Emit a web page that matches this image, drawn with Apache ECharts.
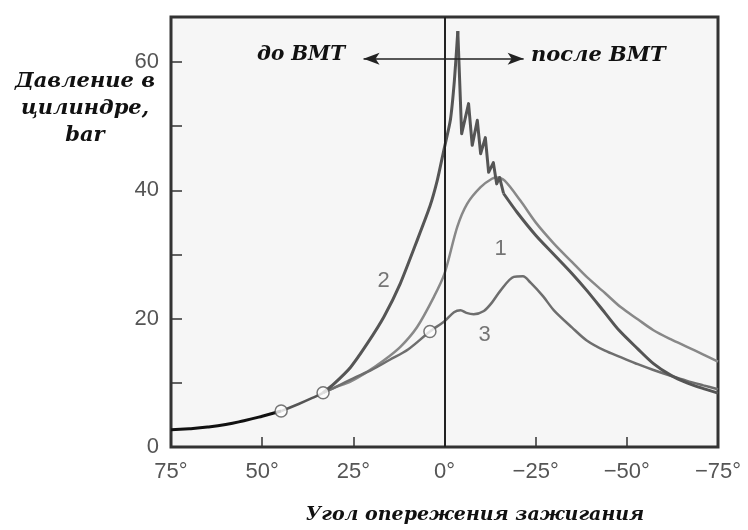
<!DOCTYPE html>
<html><head><meta charset="utf-8">
<script src="https://cdn.jsdelivr.net/npm/echarts@6/dist/echarts.min.js"></script>
<style>html,body{margin:0;padding:0;background:#fff}#c{width:748px;height:530px}</style>
</head><body><div id="c"></div>
<script>
// x = ignition angle (deg, positive = before TDC), y = pressure (bar)
var baseX = [75, 70, 65, 60, 55, 50, 44.8];
var baseY = [2.7, 2.85, 3.1, 3.5, 4.1, 4.8, 5.6];
var sharedX = [44.8, 40, 36, 33.3];
var sharedY = [5.6, 6.7, 7.7, 8.45];
var curve1X = [33.3, 30, 25.8, 21.2, 16.6, 12.1, 7.5, 2.9, 0, -3.5, -6.2, -9.9, -13, -14.4, -16.5, -20.8, -25, -30, -35, -39, -44, -48.3, -53, -57.3, -62, -66.5, -71, -75];
var curve1Y = [8.45, 9.3, 10.2, 11.7, 13.5, 15.6, 18.7, 23.4, 27, 34.3, 37.9, 40.5, 41.8, 42, 41.5, 38.4, 35, 31.7, 28.8, 26.5, 24, 21.8, 19.9, 18.2, 16.8, 15.6, 14.4, 13.3];
// curve 2: compression rise, knocking oscillations, expansion decay
var curve2RiseX = [33.3, 30.4, 25.8, 21.2, 16.6, 12.1, 7.5, 4, 2, 0.2, -1.6, -2.7, -3.65];
var curve2RiseY = [8.45, 9.8, 12.4, 16.1, 20.3, 25.5, 32.2, 37.5, 41.5, 46.2, 50.9, 57, 64.8];
var curve2KnockX = [-3.65, -4.7, -6.6, -7.6, -9, -9.9, -11.2, -12.1, -13.4, -14.3, -15.1, -16.2];
var curve2KnockY = [64.8, 48.8, 53.5, 47, 50.9, 45.7, 48.2, 42.8, 44.3, 41, 42, 39.5];
var curve2DecayX = [-16.2, -20, -25, -30, -35, -39, -44, -48, -53, -57.3, -62, -66.5, -71, -75];
var curve2DecayY = [39.5, 36.5, 33, 30, 27, 24.4, 20.9, 18.1, 15.3, 13, 11.2, 10, 9.1, 8.4];
var curve3X = [33.3, 30, 25, 20, 15, 10, 4, 0, -2.6, -4.4, -6, -8, -10.8, -13, -15.4, -19, -21.5, -23.6, -27, -30, -35, -39, -44, -48.3, -53, -57.3, -62, -66.5, -71, -75];
var curve3Y = [8.45, 9.3, 10.7, 12.0, 13.6, 15.2, 18.0, 19.6, 21, 21.3, 20.9, 20.7, 21.2, 22.5, 24.4, 26.5, 26.6, 25.6, 23.5, 21.3, 18.6, 16.6, 15.0, 14.0, 12.9, 12.0, 11.1, 10.3, 9.6, 9.0];
var circleX = [44.8, 33.3, 4.0];
var circleY = [5.6, 8.45, 18.0];
var curveNames = ['1', '2', '3'];
var nameX = [-15.4, 16.7, -11];
var nameY = [30.8, 25.8, 17.4];
var xTicks = [75, 50, 25, 0, -25, -50, -75];
var yTicks = [0, 20, 40, 60];
var arrowX = [22.2, -21.7];
var arrowY = 60.5;

function pairs(xs, ys) { return xs.map(function (x, i) { return [x, ys[i]]; }); }

var chart = echarts.init(document.getElementById('c'));
var serifFont = '"DejaVu Serif", serif';
var labelStyle = { color: '#555', fontSize: 22, fontFamily: '"Liberation Sans", Arial, sans-serif' };
var c2 = { color: '#555', width: 3, join: 'round' };

chart.setOption({
  backgroundColor: '#fff',
  animation: false,
  grid: { left: 171, right: 30, top: 17, bottom: 83, show: true, backgroundColor: '#f6f6f6', borderColor: '#333', borderWidth: 3 },
  xAxis: {
    type: 'value', min: -75, max: 75, interval: 25, inverse: true, position: 'bottom',
    axisLine: { show: false, onZero: false },
    axisTick: { show: true, inside: true, length: 10, lineStyle: { color: '#333', width: 1.5 } },
    splitLine: { show: false },
    axisLabel: Object.assign({ margin: 14, formatter: function (v) {
      if (xTicks.indexOf(v) < 0) return '';
      return (v < 0 ? '\u2212' + (-v) : v) + '\u00b0';
    } }, labelStyle)
  },
  yAxis: {
    type: 'value', min: 0, max: 67, interval: 10, position: 'left',
    axisLine: { show: false, onZero: false },
    axisTick: { show: true, inside: true, length: 11, lineStyle: { color: '#333', width: 1.5 } },
    splitLine: { show: false },
    axisLabel: Object.assign({ margin: 12, formatter: function (v) {
      return yTicks.indexOf(v) >= 0 ? String(v) : '';
    } }, labelStyle)
  },
  series: [
    { type: 'line', data: pairs(baseX, baseY), showSymbol: false, smooth: true, lineStyle: { color: '#111', width: 3 }, z: 3 },
    { type: 'line', data: pairs(sharedX, sharedY), showSymbol: false, smooth: true, lineStyle: { color: '#555', width: 2.5 }, z: 3 },
    { type: 'line', data: pairs(curve1X, curve1Y), showSymbol: false, smooth: 0.3, lineStyle: { color: '#888', width: 2.5 }, z: 3 },
    { type: 'line', data: pairs(curve3X, curve3Y), showSymbol: false, smooth: 0.3, lineStyle: { color: '#6e6e6e', width: 2.5 }, z: 3 },
    { type: 'line', data: pairs(curve2RiseX, curve2RiseY), showSymbol: false, smooth: 0.2, lineStyle: c2, z: 4,
      markLine: {
        silent: true, symbol: ['none', 'none'], label: { show: false },
        lineStyle: { color: '#222', width: 2, type: 'solid' },
        data: [{ xAxis: 0 }]
      }
    },
    { type: 'line', data: pairs(curve2KnockX, curve2KnockY), showSymbol: false, smooth: false, lineStyle: c2, z: 4 },
    { type: 'line', data: pairs(curve2DecayX, curve2DecayY), showSymbol: false, smooth: 0.3, lineStyle: c2, z: 4 },
    { type: 'line', data: [], z: 5,
      markLine: {
        silent: true, symbol: ['arrow', 'arrow'], symbolSize: [9, 16], label: { show: false },
        lineStyle: { color: '#222', width: 1.5, type: 'solid' },
        data: [[{ coord: [arrowX[0], arrowY] }, { coord: [arrowX[1], arrowY] }]]
      }
    },
    { type: 'scatter', data: pairs(circleX, circleY), symbol: 'circle', symbolSize: 12,
      itemStyle: { color: '#fff', borderColor: '#555', borderWidth: 1.5 }, z: 6 },
    { type: 'scatter', symbolSize: 0, z: 6,
      data: curveNames.map(function (n, i) { return { name: n, value: [nameX[i], nameY[i]] }; }),
      label: { show: true, position: 'inside', formatter: '{b}', color: '#555', fontSize: 22, fontFamily: '"Liberation Sans", Arial, sans-serif' } }
  ],
  graphic: [
    { type: 'text', left: 257, top: 45, style: { text: 'до ВМТ', font: 'italic bold 20px ' + serifFont, fill: '#111' } },
    { type: 'text', left: 531, top: 45, style: { text: 'после ВМТ', font: 'italic bold 21px ' + serifFont, fill: '#111' } },
    { type: 'text', x: 85, y: 68, style: { text: 'Давление в\nцилиндре,\nbar', align: 'center', lineHeight: 27, font: 'italic bold 21px ' + serifFont, fill: '#111' } },
    { type: 'text', x: 475, y: 506, style: { text: 'Угол опережения зажигания', align: 'center', font: 'italic bold 19px ' + serifFont, fill: '#111' } }
  ]
});
</script>
</body></html>
